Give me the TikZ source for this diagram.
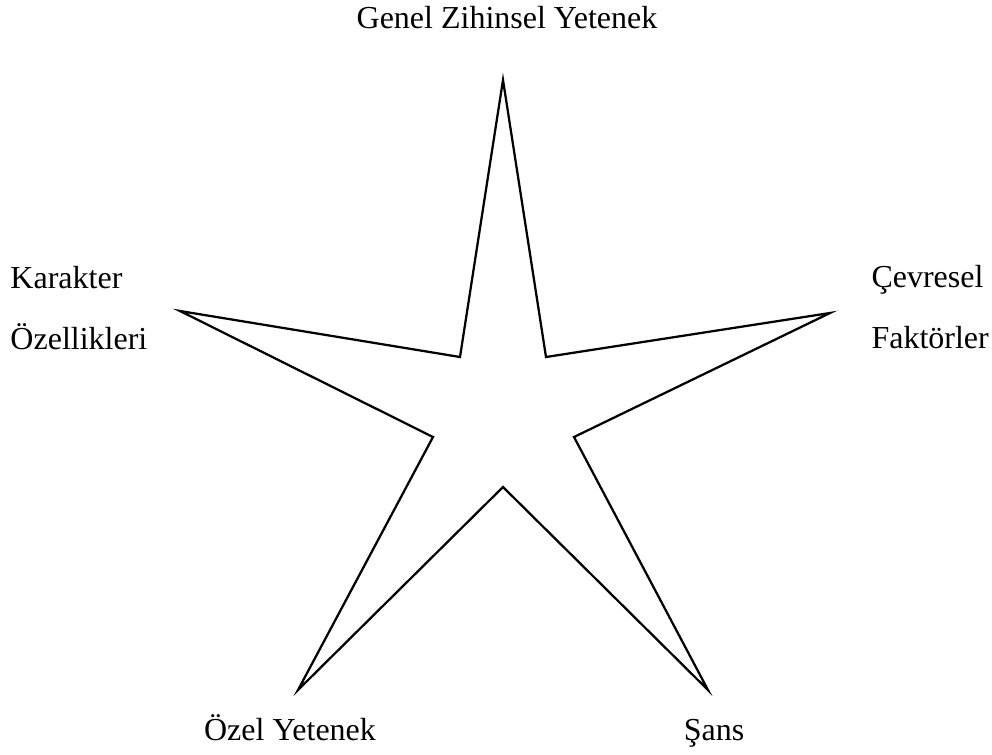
\documentclass[tikz,border=0pt]{standalone}
\usepackage{fontspec}
\setmainfont{Liberation Serif}
\begin{document}
\begin{tikzpicture}[x=0.4pt,y=-0.4pt,
        factor/.style={font=\fontsize{12.8}{15}\selectfont, inner sep=0pt},
        starline/.style={line width=0.9pt}]
    \useasboundingbox (0,0) rectangle (992,754);
    % the star
    \draw[starline] (503,80) -- (546,357) -- (830,313) -- (574,437) -- (708,690)
        -- (503,487) -- (298,690) -- (433,437) -- (180,311) -- (460,357) -- cycle;
    % labels
    \node[factor, anchor=base] (genel) at (507,28) {Genel Zihinsel Yetenek};
    \node[factor, anchor=base west] (karakter) at (10,288) {Karakter};
    \node[factor, anchor=base west] (ozellik) at (10,349) {Özellikleri};
    \node[factor, anchor=base west] (cevre) at (871,287) {Çevresel};
    \node[factor, anchor=base west] (faktor) at (871,348) {Faktörler};
    \node[factor, anchor=base] (ozel) at (290,740) {Özel Yetenek};
    \node[factor, anchor=base] (sans) at (714,740) {Şans};
\end{tikzpicture}
\end{document}
